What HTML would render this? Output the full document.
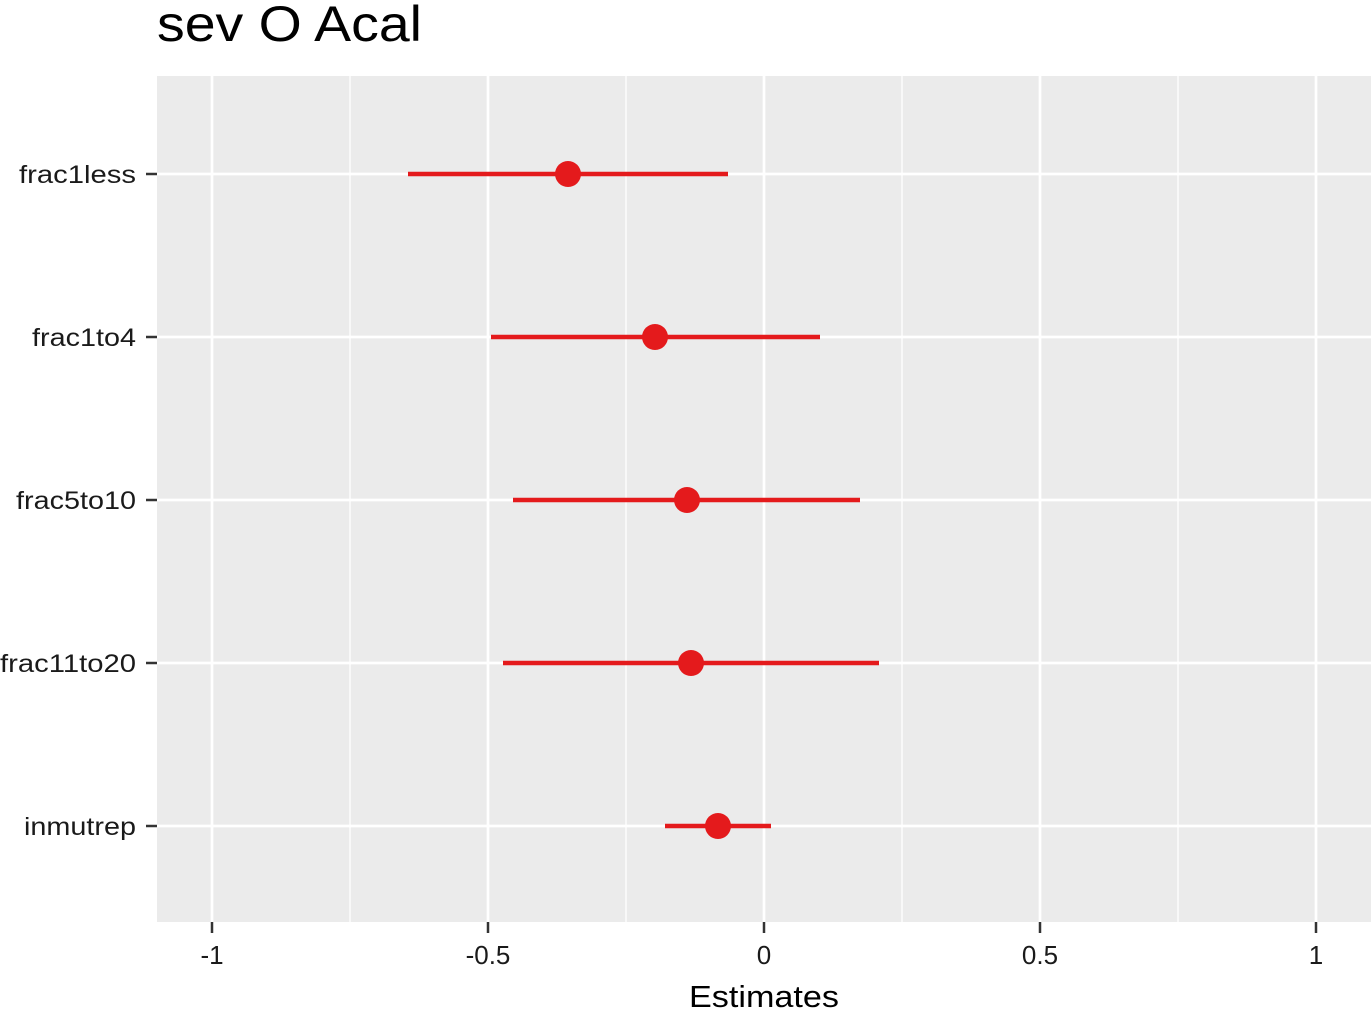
<!DOCTYPE html>
<html><head><meta charset="utf-8"><style>
html,body{margin:0;padding:0;background:#fff;}
svg{display:block;font-family:"Liberation Sans",Arial,sans-serif;}
</style></head><body>
<svg width="1371" height="1009" viewBox="0 0 1371 1009" xmlns="http://www.w3.org/2000/svg">
<rect width="1371" height="1009" fill="#fff"/>
<text x="157" y="41" font-size="50" fill="#000" textLength="265" lengthAdjust="spacingAndGlyphs">sev O Acal</text>
<rect x="157" y="76" width="1214" height="846" fill="#ebebeb"/>
<g stroke="#fff" stroke-width="1.3">
<line x1="350" y1="76" x2="350" y2="922"/><line x1="626" y1="76" x2="626" y2="922"/>
<line x1="902" y1="76" x2="902" y2="922"/><line x1="1178" y1="76" x2="1178" y2="922"/>
</g>
<g stroke="#fff" stroke-width="2.7">
<line x1="212" y1="76" x2="212" y2="922"/><line x1="488" y1="76" x2="488" y2="922"/>
<line x1="764" y1="76" x2="764" y2="922"/><line x1="1040" y1="76" x2="1040" y2="922"/>
<line x1="1316" y1="76" x2="1316" y2="922"/>
<line x1="157" y1="174" x2="1371" y2="174"/><line x1="157" y1="337" x2="1371" y2="337"/>
<line x1="157" y1="500" x2="1371" y2="500"/><line x1="157" y1="663" x2="1371" y2="663"/>
<line x1="157" y1="826" x2="1371" y2="826"/>
</g>
<g stroke="#e41a1c" stroke-width="4.5">
<line x1="408" y1="174" x2="728" y2="174"/>
<line x1="491" y1="337" x2="820" y2="337"/>
<line x1="513" y1="500" x2="860" y2="500"/>
<line x1="503" y1="663" x2="879" y2="663"/>
<line x1="665" y1="826" x2="771" y2="826"/>
</g>
<g fill="#e41a1c">
<circle cx="568" cy="174" r="13"/><circle cx="655" cy="337" r="13"/>
<circle cx="687" cy="500" r="13"/><circle cx="691" cy="663" r="13"/>
<circle cx="718" cy="826" r="13"/>
</g>
<g stroke="#333" stroke-width="2.5">
<line x1="146" y1="174" x2="157" y2="174"/><line x1="146" y1="337" x2="157" y2="337"/>
<line x1="146" y1="500" x2="157" y2="500"/><line x1="146" y1="663" x2="157" y2="663"/>
<line x1="146" y1="826" x2="157" y2="826"/>
<line x1="212" y1="922" x2="212" y2="933"/><line x1="488" y1="922" x2="488" y2="933"/>
<line x1="764" y1="922" x2="764" y2="933"/><line x1="1040" y1="922" x2="1040" y2="933"/>
<line x1="1316" y1="922" x2="1316" y2="933"/>
</g>
<g font-size="25" fill="#1a1a1a" text-anchor="end">
<text x="136" y="183" textLength="117" lengthAdjust="spacingAndGlyphs">frac1less</text>
<text x="136" y="346" textLength="104" lengthAdjust="spacingAndGlyphs">frac1to4</text>
<text x="136" y="509" textLength="120" lengthAdjust="spacingAndGlyphs">frac5to10</text>
<text x="136" y="672" textLength="136" lengthAdjust="spacingAndGlyphs">frac11to20</text>
<text x="136" y="835" textLength="112" lengthAdjust="spacingAndGlyphs">inmutrep</text>
</g>
<g font-size="26" fill="#1a1a1a" text-anchor="middle">
<text x="212" y="964">-1</text>
<text x="488" y="964">-0.5</text>
<text x="764" y="964">0</text>
<text x="1040" y="964">0.5</text>
<text x="1316" y="964">1</text>
</g>
<text x="764" y="1007" font-size="31" fill="#000" text-anchor="middle" textLength="150" lengthAdjust="spacingAndGlyphs">Estimates</text>
</svg>
</body></html>
